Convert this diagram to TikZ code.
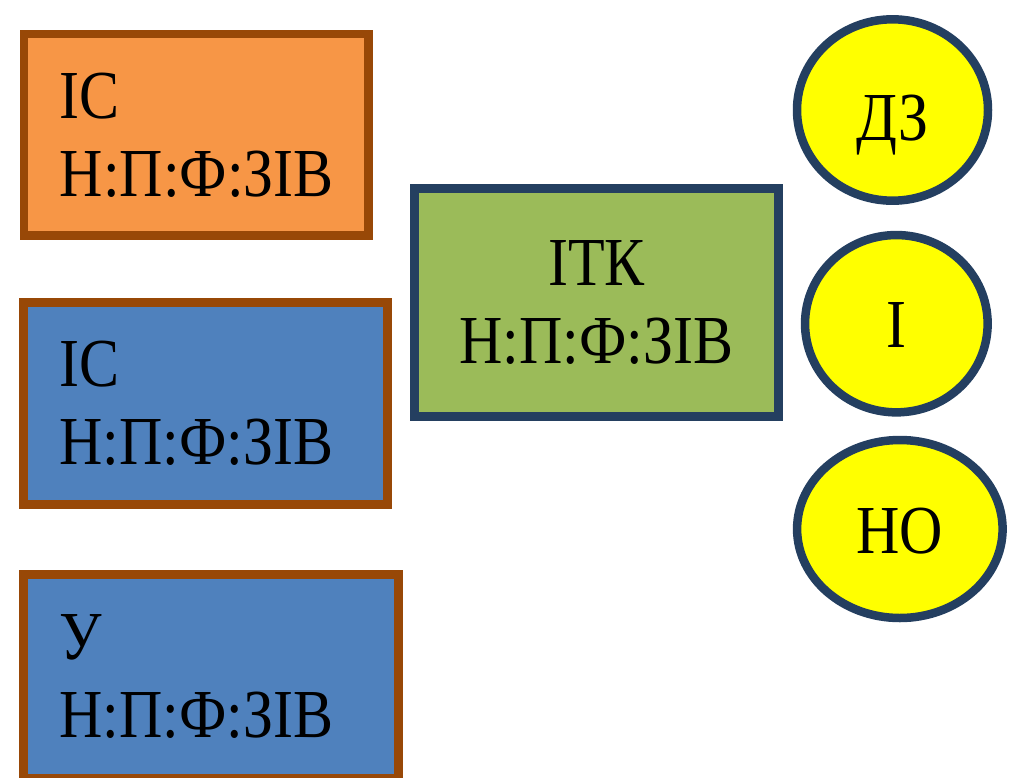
\documentclass[tikz,border=0pt]{standalone}
\usepackage{fontspec}
\setmainfont{Liberation Serif}[FakeStretch=0.873]
\usetikzlibrary{shapes.geometric}
\definecolor{boxorange}{HTML}{F79646}
\definecolor{boxblue}{HTML}{4F81BD}
\definecolor{boxgreen}{HTML}{9BBB59}
\definecolor{edgebrown}{HTML}{984807}
\definecolor{edgenavy}{HTML}{243F60}
\definecolor{discyellow}{HTML}{FFFF00}
\begin{document}
\begin{tikzpicture}[x=1pt,y=-1pt,
  lbl/.style={font=\fontsize{68.7}{78}\selectfont, text=black},
  leftbox/.style={draw=edgebrown, line width=8.7pt, rectangle, lbl,
    inner xsep=36pt, inner ysep=0pt, align=left},
  midbox/.style={draw=edgenavy, line width=8.7pt, rectangle, lbl,
    fill=boxgreen, inner sep=0pt, align=center},
  disc/.style={draw=edgenavy, line width=8.5pt, ellipse, fill=discyellow,
    inner sep=0pt, lbl, text height=48pt, text depth=0pt}]
\useasboundingbox (0,0) rectangle (1010,777);
\node[leftbox, fill=boxorange, minimum width=344.8pt, minimum height=201.8pt,
  text width=272.8pt] (is1) at (196.25,134.75) {ІС\\Н:П:Ф:ЗІВ};
\node[leftbox, fill=boxblue, minimum width=364pt, minimum height=202.3pt,
  text width=292pt] (is2) at (205.65,403.5) {ІС\\Н:П:Ф:ЗІВ};
\node[leftbox, fill=boxblue, minimum width=375pt, minimum height=204.3pt,
  text width=303pt] (u) at (211.15,676.5) {У\\Н:П:Ф:ЗІВ};
\node[midbox, minimum width=364.3pt, minimum height=228.3pt] (itk)
  at (596.5,302.5) {ІТК\\Н:П:Ф:ЗІВ};
\node[disc, minimum width=191pt, minimum height=181.4pt, text height=60pt]
  (dz) at (892.5,110) {ДЗ};
\node[disc, minimum width=182.6pt, minimum height=177.3pt, text height=47pt]
  (i) at (896.35,323.7) {І};
\node[disc, minimum width=205.5pt, minimum height=178pt, text height=48.6pt]
  (no) at (899.85,529) {НО};
\end{tikzpicture}
\end{document}
